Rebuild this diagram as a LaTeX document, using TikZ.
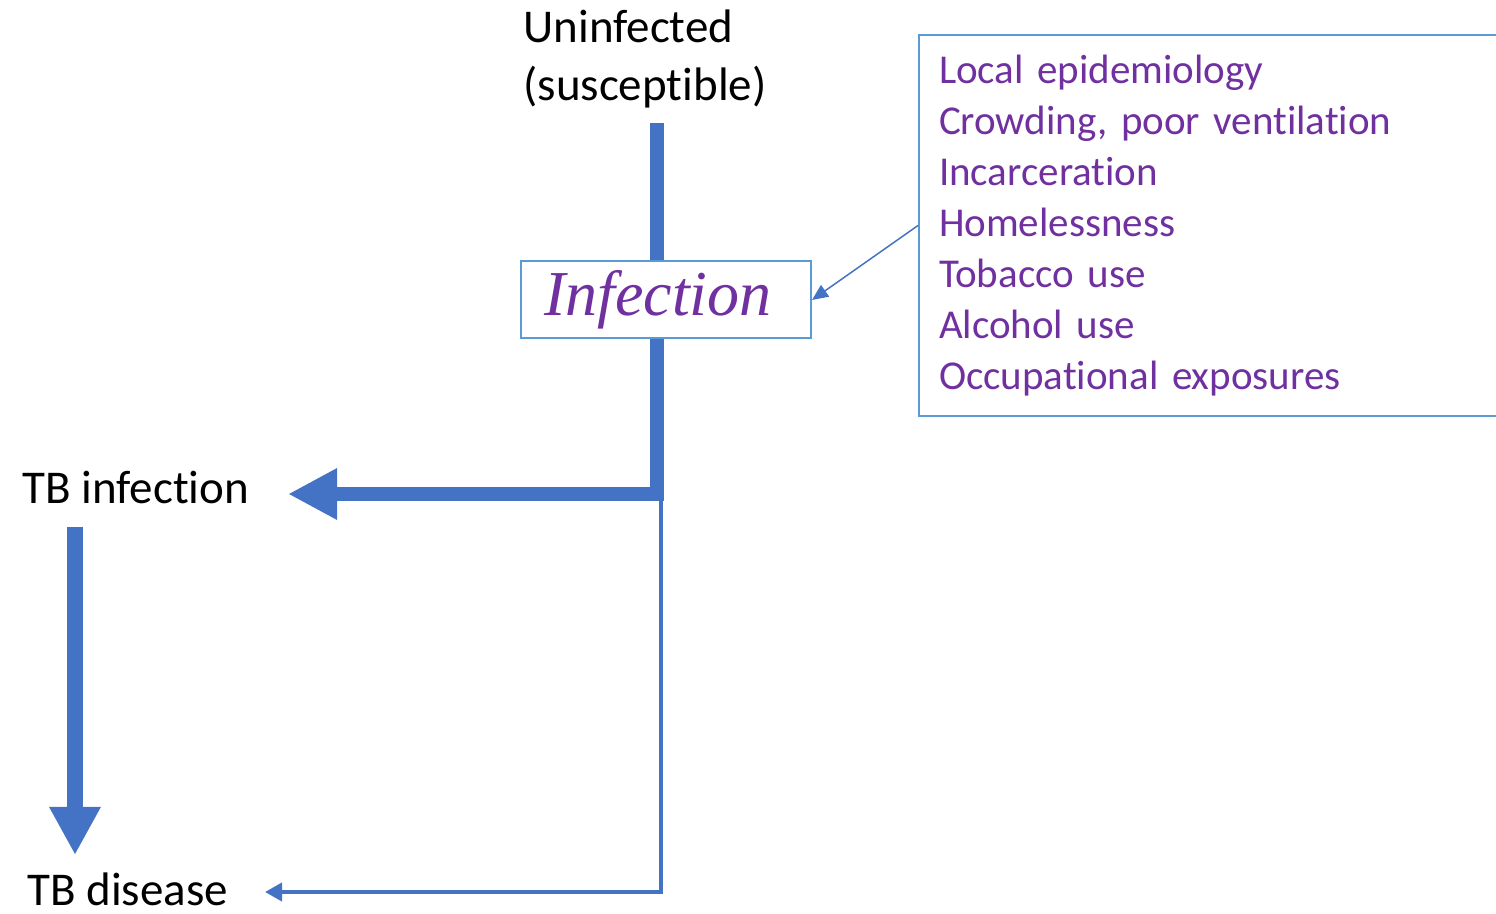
\documentclass[tikz,border=0pt]{standalone}
\usepackage{fontspec}
\setmainfont{Carlito}[RawFeature={-liga;-clig;-calt;-dlig}]
\newfontfamily\infont{Liberation Serif}
\usetikzlibrary{arrows.meta,positioning}
\definecolor{flowblue}{RGB}{68,114,196}
\definecolor{boxblue}{RGB}{91,155,213}
\definecolor{riskpurple}{RGB}{112,48,160}
\tikzset{
  bigflow/.style={draw=flowblue,line width=7pt,line join=miter},
  thinflow/.style={draw=flowblue,line width=2pt,line join=miter},
  stagetext/.style={anchor=west,inner sep=0pt,align=left,font=\fontsize{23.5}{29}\selectfont}
}
\begin{document}
\begin{tikzpicture}[x=0.5pt,y=-0.5pt]
\useasboundingbox (0,0) rectangle (1496,914);
\node[stagetext] (unin) at (523,59) {Uninfected\\(susceptible)};
\node[stagetext] (tbinf) at (22,488) {TB infection};
\node[stagetext] (tbdis) at (27,889) {TB disease};
\coordinate (top) at (657,123);
\coordinate (corner) at (657,494);
\coordinate (split) at (661,494);
\coordinate (infend) at (288,494);
\coordinate (disend) at (265,892);
\coordinate (infdown) at (75,527);
\coordinate (disup) at (75,855);
% main path through the infection step
\draw[bigflow,-{Triangle[length=24.5pt,width=24pt]}] (top)--(corner)--(infend);
\draw[thinflow,-{Triangle[length=8.5pt,width=9pt]}] (split)--(split|-disend)--(disend);
\draw[draw=flowblue,line width=8pt,-{Triangle[length=24pt,width=24pt]}] (infdown)--(disup);
\node[draw=boxblue,line width=1pt,fill=white,minimum width=145pt,minimum height=38.5pt,text=riskpurple,font=\infont\itshape\fontsize{32}{32}\selectfont] (infbox) at (666,300) {\hspace*{-8pt}Infection};
\node[draw=boxblue,line width=1pt,anchor=north west,minimum width=300pt,minimum height=190.5pt,text width=280pt,inner xsep=10pt,align=left,text=riskpurple,font=\fontsize{20.5}{25.5}\selectfont] (factors) at (918,34) {Local epidemiology\\Crowding, poor ventilation\\Incarceration\\Homelessness\\Tobacco use\\Alcohol use\\Occupational exposures};
\draw[draw=flowblue,line width=0.75pt,-{Triangle[length=8pt,width=7pt]}] (factors.west)--(infbox.east);
\end{tikzpicture}
\end{document}
